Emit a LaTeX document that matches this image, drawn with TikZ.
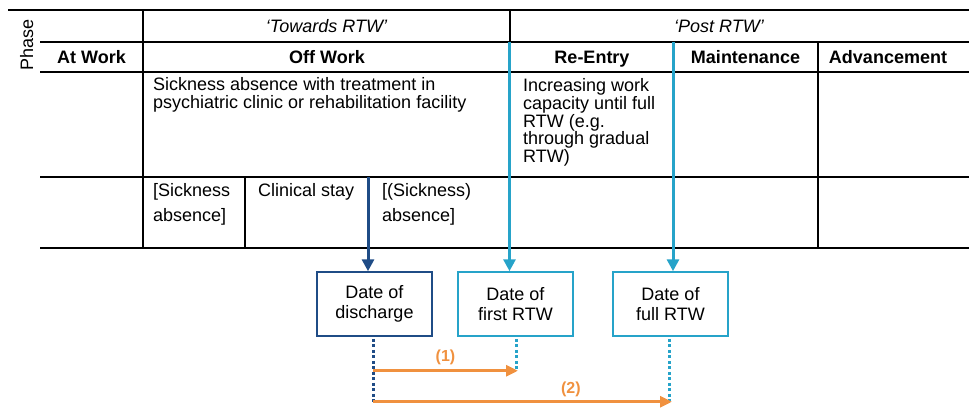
\documentclass[tikz,border=0pt]{standalone}
\usepackage{fontspec}
\setmainfont{Liberation Sans}
\usetikzlibrary{arrows.meta,calc}
\definecolor{dkblue}{HTML}{1F4C86}
\definecolor{ltblue}{HTML}{26A3C9}
\definecolor{orng}{HTML}{F0913F}
\begin{document}
\begin{tikzpicture}[x=1pt,y=-1pt,
  txt/.style={font=\fontsize{18}{17.6}\selectfont, inner sep=0pt, text=black, align=left},
  wide/.style={txt, font=\fontsize{18}{25}\selectfont},
  hdr/.style={txt, font=\fontsize{18}{17.5}\selectfont\bfseries},
  itl/.style={txt, font=\fontsize{18}{17.5}\selectfont\itshape},
  grid/.style={line width=2pt, black},
  datebox/.style={draw, line width=1.5pt, minimum width=115pt, minimum height=64pt, align=center, font=\fontsize{18}{20}\selectfont, inner sep=0pt},
  feed/.style={line width=3pt, -{Triangle[length=12pt,width=12pt]}},
  dots/.style={line width=3pt, dash pattern=on 3pt off 2.5pt},
  span/.style={orng, line width=3pt, -{Triangle[length=12pt,width=11pt]}},
  lbl/.style={text=orng, font=\fontsize{16}{16}\selectfont\bfseries, inner sep=0pt, anchor=base},
]
\useasboundingbox (0,0) rectangle (969,417);

% table grid
\draw[grid] (8,10) -- (969,10);
\draw[grid] (40,42) -- (969,42);
\draw[grid] (40,72) -- (969,72);
\draw[grid] (40,177) -- (969,177);
\draw[grid] (40,248) -- (969,248);
\draw[grid] (143,10) -- (143,248);
\draw[grid] (510,10) -- (510,248);
\draw[grid] (673,42) -- (673,248);
\draw[grid] (818,42) -- (818,248);
\draw[grid] (245,177) -- (245,248);
\draw[grid] (368,177) -- (368,248);

% texts (multi-line nodes: base = baseline of last line)
\node[txt, rotate=90, anchor=base] (phase) at (33,45) {Phase};
\node[itl, anchor=base] (towards) at (326.5,33) {‘Towards RTW’};
\node[itl, anchor=base] (post) at (719,33) {‘Post RTW’};
\node[hdr, anchor=base] (atwork) at (91.5,64) {At Work};
\node[hdr, anchor=base] (offwork) at (327,64) {Off Work};
\node[hdr, anchor=base] (reentry) at (592,64) {Re-Entry};
\node[hdr, anchor=base] (maint) at (745.5,64) {Maintenance};
\node[hdr, anchor=base] (adv) at (888,64) {Advancement};
\node[txt, anchor=base west] (sick) at (153,108.6) {Sickness absence with treatment in\\psychiatric clinic or rehabilitation facility};
\node[txt, anchor=base west] (incr) at (523,162.4) {Increasing work\\capacity until full\\RTW (e.g.\\through gradual\\RTW)};
\node[wide, anchor=base west] (sa1) at (153,221.7) {[Sickness\\absence]};
\node[wide, anchor=base west] (clin) at (258,196.7) {Clinical stay};
\node[wide, anchor=base west] (sa2) at (382,221.7) {[(Sickness)\\absence]};

% date boxes
\node[datebox, draw=dkblue] (d) at (374.5,304) {Date of\\discharge};
\node[datebox, draw=ltblue] (f) at (515.5,304) {Date of\\first RTW};
\node[datebox, draw=ltblue] (u) at (670.5,304) {Date of\\full RTW};

% feeding arrows
\coordinate (t1) at (368,177);
\coordinate (t2) at (509.5,42);
\coordinate (t3) at (673,42);
\draw[feed, dkblue] (t1) -- (t1 |- d.north);
\draw[feed, ltblue] (t2) -- (t2 |- f.north);
\draw[feed, ltblue] (t3) -- (t3 |- u.north);

% dotted guides
\coordinate (o1) at ($(d.south)+(-1.5,34)$);
\coordinate (o2) at ($(d.south)+(-1.5,65)$);
\draw[dots, dkblue] ($(d.south)+(-1.5,2)$) -- ($(d.south)+(-1.5,67)$);
\draw[dots, ltblue] ($(f.south)+(0.5,2)$) -- ($(f.south)+(0.5,32)$) coordinate (f1);
\draw[dots, ltblue] ($(u.south)+(-1.5,2)$) -- ($(u.south)+(-1.5,64)$) coordinate (u1);

% durations
\draw[span] (o1) -- ($(o1 -| f1)+(2,0)$) node[lbl, pos=0.5, yshift=9.5pt] {(1)};
\draw[span] (o2) -- ($(o2 -| u1)+(3,0)$) node[lbl, pos=0.662, yshift=8pt] {(2)};
\end{tikzpicture}
\end{document}
